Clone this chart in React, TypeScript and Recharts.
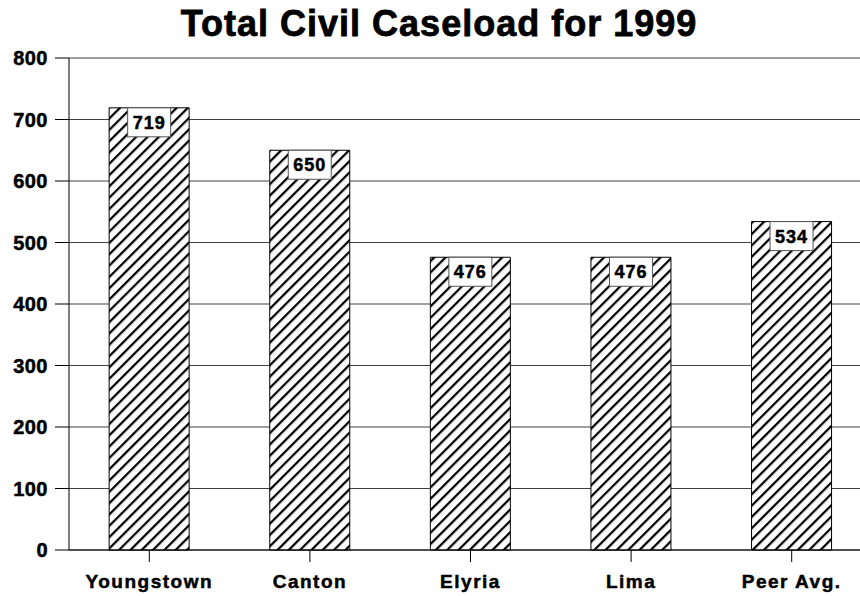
import { BarChart, Bar, XAxis, YAxis, CartesianGrid, LabelList } from 'recharts';

const courts = ['Youngstown', 'Canton', 'Elyria', 'Lima', 'Peer Avg.'];
const caseloads = [719, 650, 476, 476, 534];
const yTicks = [0, 100, 200, 300, 400, 500, 600, 700, 800];

const chartData = courts.map((court, i) => ({ court, cases: caseloads[i] }));

const FONT = '"Liberation Sans", Arial, sans-serif';

// white box with the value, sitting on top of each bar
const ValueBox = (props: any) => {
  const { x, y, width, value } = props;
  const boxW = 43;
  const boxH = 29;
  const bx = x + width / 2 - boxW / 2;
  return (
    <g>
      <rect x={bx} y={y} width={boxW} height={boxH} fill="#fff" stroke="#555" strokeWidth={1} />
      <text
        x={x + width / 2}
        y={y + boxH / 2 + 6.5}
        textAnchor="middle"
        fontFamily={FONT}
        fontWeight="bold"
        fontSize={18}
        letterSpacing={1}
        stroke="#000"
        strokeWidth={0.5}
        fill="#000"
      >
        {value}
      </text>
    </g>
  );
};

const tickStyle = (size: number, spacing: number) => ({
  fontFamily: FONT,
  fontWeight: 'bold',
  fontSize: size,
  letterSpacing: spacing,
  fill: '#000',
  stroke: '#000',
  strokeWidth: 0.5,
});

export default function App() {
  return (
    <div
      style={{
        position: 'absolute',
        left: 0,
        top: 0,
        width: 860,
        height: 596,
        overflow: 'hidden',
        background: '#fff',
        fontFamily: FONT,
      }}
    >
      <div
        style={{
          position: 'absolute',
          top: 3,
          left: 9,
          width: 860,
          textAlign: 'center',
          fontSize: 36,
          fontWeight: 'bold',
          letterSpacing: 1,
          WebkitTextStroke: '0.8px #000',
          color: '#000',
        }}
      >
        Total Civil Caseload for 1999
      </div>
      <BarChart
        width={880}
        height={596}
        data={chartData}
        margin={{ top: 58, right: 8, left: 0, bottom: 0 }}
        barCategoryGap="25%"
      >
        <defs>
          <pattern id="hatch" width="8" height="8" patternUnits="userSpaceOnUse" patternTransform="rotate(45)">
            <rect width="8" height="8" fill="#fff" />
            <line x1="0" y1="0" x2="0" y2="8" stroke="#000" strokeWidth="4.5" />
          </pattern>
        </defs>
        <CartesianGrid horizontal vertical={false} stroke="#000" strokeOpacity={0.75} />
        <XAxis
          dataKey="court"
          height={46}
          tickSize={12}
          tickMargin={13}
          axisLine={{ stroke: '#000' }}
          tickLine={{ stroke: '#000' }}
          tick={tickStyle(19, 1.5)}
          interval={0}
        />
        <YAxis
          width={69}
          domain={[0, 800]}
          ticks={yTicks}
          tickSize={14}
          tickMargin={7}
          axisLine={{ stroke: '#000' }}
          tickLine={{ stroke: '#000' }}
          tick={tickStyle(20, 0.5)}
        />
        <Bar dataKey="cases" fill="url(#hatch)" stroke="#000" strokeWidth={1} isAnimationActive={false}>
          <LabelList dataKey="cases" content={<ValueBox />} />
        </Bar>
      </BarChart>
    </div>
  );
}
